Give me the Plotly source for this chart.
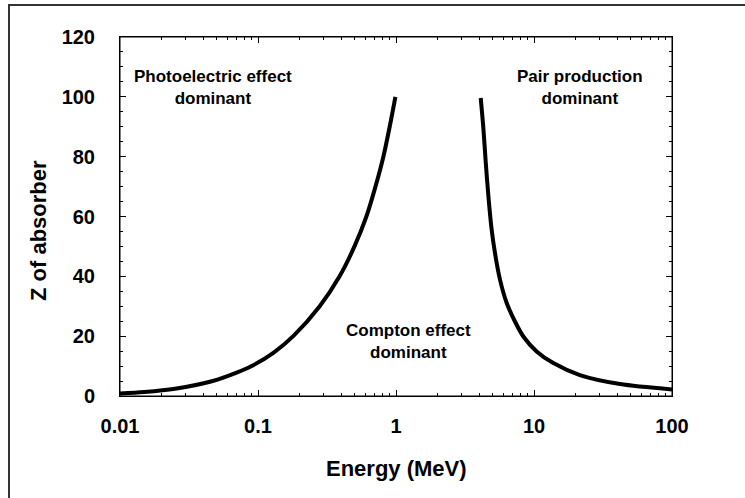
import plotly.graph_objects as go

# Photoelectric / Compton boundary
pe_energy = [0.01, 0.015, 0.025, 0.047, 0.07, 0.09, 0.13, 0.18, 0.28, 0.39,
             0.5, 0.61, 0.71, 0.81, 0.9, 0.99]
pe_z = [0.8, 1.3, 2.4, 5.0, 7.8, 10, 14.5, 20, 30, 40,
        50, 60, 70, 80, 90, 100]

# Compton / Pair production boundary
pp_energy = [4.11, 4.30, 4.47, 4.67, 4.93, 5.21, 5.67, 6.34, 7.28, 8.37,
             10.45, 13.8, 21.5, 42.0, 100]
pp_z = [99.6, 89.3, 78.1, 66.9, 55.7, 47.9, 38.9, 31.1, 24.9, 19.9,
        14.9, 11.0, 7.0, 4.0, 2.2]

x_tickvals = [0.01, 0.1, 1, 10, 100]
x_ticktext = ["0.01", "0.1", "1", "10", "100"]
x_minor = [m * d for d in [0.01, 0.1, 1, 10] for m in range(2, 10)]
y_tickvals = [0, 20, 40, 60, 80, 100, 120]

FONT = "Liberation Sans, Arial, sans-serif"

# plot-area geometry (pixels) used for paper-coordinate conversions
L, R, T, B = 120, 672, 37, 396
PW, PH = R - L, B - T


def px(x):
    return (x - L) / PW


def py(y):
    return (B - y) / PH


fig = go.Figure()
fig.add_trace(go.Scatter(x=pe_energy, y=pe_z, mode="lines",
                         line=dict(color="black", width=4, shape="spline", smoothing=0.8),
                         showlegend=False, hoverinfo="skip"))
fig.add_trace(go.Scatter(x=pp_energy, y=pp_z, mode="lines",
                         line=dict(color="black", width=4, shape="spline", smoothing=0.8),
                         showlegend=False, hoverinfo="skip"))

fig.update_layout(
    width=745, height=498,
    margin=dict(l=L, r=745 - R, t=T, b=498 - B),
    paper_bgcolor="white", plot_bgcolor="white",
    font=dict(family=FONT, color="black", weight="bold"),
    xaxis=dict(type="log", range=[-2, 2], tickvals=x_tickvals, ticktext=x_ticktext,
               ticks="inside", ticklen=6, tickcolor="black", tickwidth=1,
               minor=dict(tickvals=x_minor, ticks="inside", ticklen=3, tickcolor="black"),
               showline=True, linecolor="black", linewidth=1, mirror="ticks",
               showgrid=False, zeroline=False,
               tickfont=dict(size=20, family=FONT, weight="bold"),
               ticklabelstandoff=12),
    yaxis=dict(range=[0, 120], tickvals=y_tickvals,
               ticks="inside", ticklen=6, tickcolor="black", tickwidth=1,
               minor=dict(dtick=5, ticks="inside", ticklen=3, tickcolor="black"),
               showline=True, linecolor="black", linewidth=1, mirror="ticks",
               showgrid=False, zeroline=False,
               tickfont=dict(size=20, family=FONT, weight="bold"),
               ticklabelstandoff=20),
)

annots = [
    ("Photoelectric effect<br>dominant", 213, 88),
    ("Pair production<br>dominant", 580, 88),
    ("Compton effect<br>dominant", 408, 341),
]
for text, x, y in annots:
    fig.add_annotation(text=text, x=px(x), y=py(y), xref="paper", yref="paper",
                       showarrow=False, xanchor="center", yanchor="middle",
                       font=dict(size=17, family=FONT, weight="bold"),
                       align="center")

fig.add_annotation(text="Energy (MeV)", x=0.5, y=py(468), xref="paper", yref="paper",
                   showarrow=False, xanchor="center", yanchor="middle",
                   font=dict(size=22, family=FONT, weight="bold"))
fig.add_annotation(text="Z of absorber", x=px(38), y=py(231),
                   xref="paper", yref="paper", textangle=-90,
                   showarrow=False, xanchor="center", yanchor="middle",
                   font=dict(size=22, family=FONT, weight="bold"))

# plot frame
fig.add_shape(type="rect", xref="paper", yref="paper", x0=0, x1=1, y0=0, y1=1,
              line=dict(color="black", width=1), layer="above")

# outer frame (left and top edges; right/bottom run off the page)
fig.add_shape(type="rect", xref="paper", yref="paper",
              x0=px(9), x1=px(760), y0=py(5), y1=py(515),
              line=dict(color="#333333", width=2), layer="above")

fig.write_html("out.html", config={"displayModeBar": False},
               post_script="document.body.style.margin='0px';")
